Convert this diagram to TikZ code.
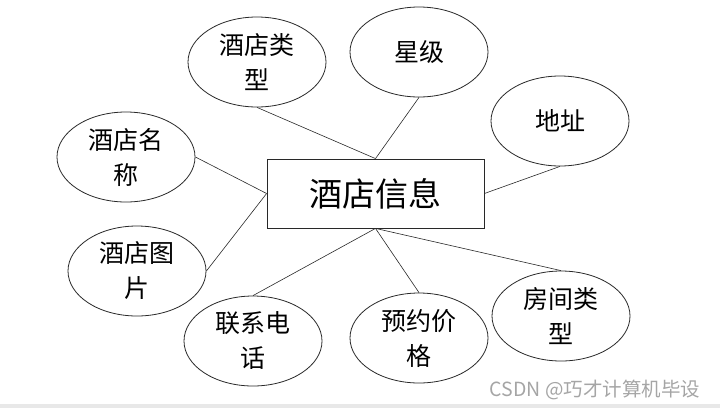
\documentclass[tikz,border=0pt]{standalone}
\usepackage{fontspec}
\newfontfamily\cjk{Noto Sans CJK SC}
\definecolor{LineGray}{RGB}{40,40,40}
\definecolor{MarkGray}{RGB}{165,165,165}
\definecolor{BarGray}{RGB}{232,232,232}
\usepackage{tikz}
\usetikzlibrary{shapes.geometric}

\begin{document}
\begin{tikzpicture}[x=1pt, y=-1pt, line width=0.8pt,
	attrib/.style={draw=LineGray, ellipse, minimum width=138pt, minimum height=90pt,
		inner sep=0pt, align=center, font=\cjk\fontsize{25}{35}\selectfont},
	entity/.style={draw=LineGray, rectangle, minimum width=217pt, minimum height=69pt,
		font=\cjk\fontsize{33}{38}\selectfont}]
	\useasboundingbox (0,0) rectangle (720,408);
	% entidad
	\node[entity] (info) at (375.5,193.5) {酒店信息};
	% atributos arriba
	\node[attrib] (htype) at (257,62) {酒店类\\型};
	\node[attrib] (star) at (419,52) {星级};
	\node[attrib] (addr) at (560,121) {地址};
	% atributos izquierda
	\node[attrib] (hname) at (126,157) {酒店名\\称};
	\node[attrib] (hpic) at (137,271) {酒店图\\片};
	% atributos abajo
	\node[attrib] (tel) at (253,341) {联系电\\话};
	\node[attrib] (price) at (419,338) {预约价\\格};
	\node[attrib] (rtype) at (561,316) {房间类\\型};
	% lineas
	\draw[LineGray, line width=0.6pt] (htype.south) -- (info.north);
	\draw[LineGray, line width=0.6pt] (star.south) -- (info.north);
	\draw[LineGray, line width=0.6pt] (addr.south) -- (info.east);
	\draw[LineGray, line width=0.6pt] (hname.east) -- (info.west);
	\draw[LineGray, line width=0.6pt] (hpic.east) -- (info.west);
	\draw[LineGray, line width=0.6pt] (tel.north) -- (info.south);
	\draw[LineGray, line width=0.6pt] (price.north) -- (info.south);
	\draw[LineGray, line width=0.6pt] (rtype.north) -- (info.south);
	% marca
	\node[anchor=east, text=MarkGray, font=\cjk\fontsize{19.5}{22}\selectfont] (mark) at (704,390) {CSDN @巧才计算机毕设};
	\fill[BarGray] (0,404) rectangle (720,408);
\end{tikzpicture}
\end{document}
